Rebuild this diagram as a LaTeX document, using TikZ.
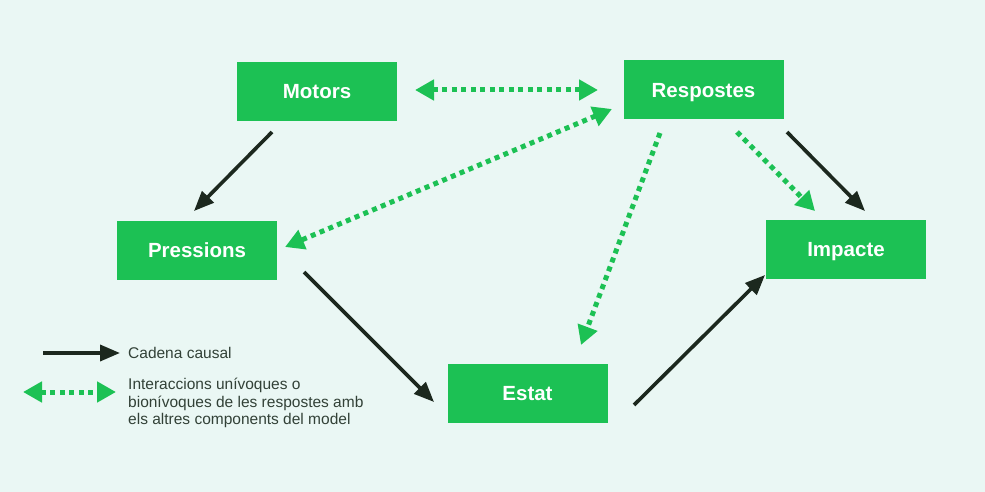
\documentclass[tikz,border=0pt]{standalone}
\usepackage{fontspec}
\setmainfont{Liberation Sans}
\usetikzlibrary{arrows.meta}
\definecolor{bggreen}{RGB}{234,247,244}
\definecolor{boxgreen}{RGB}{28,193,84}
\definecolor{darkarrow}{RGB}{28,40,30}
\definecolor{legendtext}{RGB}{50,65,55}
\tikzset{
  box/.style={fill=boxgreen, text=white, minimum width=160pt, minimum height=59pt, inner sep=0pt,
    text height=14.7pt, text depth=0pt,
    font=\fontsize{20.5}{24}\selectfont\bfseries},
  causal/.style={draw=darkarrow, line width=3.6pt, -{Triangle[length=20pt,width=16pt]}},
  interact/.style={draw=boxgreen, line width=5pt, dash pattern=on 5pt off 4.5pt,
    -{Triangle[length=19pt,width=20pt]}},
  interact2/.style={draw=boxgreen, line width=5pt, dash pattern=on 5pt off 4.5pt,
    {Triangle[length=19pt,width=20pt]}-{Triangle[length=19pt,width=20pt]}},
  legtext/.style={text=legendtext, inner sep=0pt, anchor=west, align=left,
    font=\fontsize{15.5}{17.6}\selectfont}
}
\begin{document}
\begin{tikzpicture}[x=1pt,y=-1pt]
\useasboundingbox (0,0) rectangle (985,492);
\fill[bggreen] (0,0) rectangle (985,492);
% boxes
\node[box] (mot)  at (317,91.5) {Motors};
\node[box] (resp) at (703.5,90) {Respostes};
\node[box] (pres) at (197,250) {Pressions};
\node[box] (imp)  at (846,249) {Impacte};
\node[box] (est)  at (527.5,393.5) {Estat};
% connector end points
\coordinate (m1) at (272,132);   \coordinate (p1) at (194,211);
\coordinate (m2) at (415,90);    \coordinate (r2) at (598,90);
\coordinate (r3) at (612,109);   \coordinate (p3) at (285,247);
\coordinate (r4) at (660,133);   \coordinate (e4) at (581,345);
\coordinate (r5) at (737,132);   \coordinate (i5) at (815,211);
\coordinate (r6) at (787,132);   \coordinate (i6) at (865,211);
\coordinate (p7) at (304,272);   \coordinate (e7) at (434,402);
\coordinate (e8) at (634,405);   \coordinate (i8) at (765,275);
% connectors
\draw[causal] (m1) -- (p1);
\draw[interact2] (m2) -- (r2);
\draw[interact2] (r3) -- (p3);
\draw[interact] (r4) -- (e4);
\draw[interact] (r5) -- (i5);
\draw[causal] (r6) -- (i6);
\draw[causal] (p7) -- (e7);
\draw[causal] (e8) -- (i8);
% legend
\coordinate (l1a) at (43,353);  \coordinate (l1b) at (120,353);
\coordinate (l2a) at (23,392);  \coordinate (l2b) at (116,392);
\draw[causal] (l1a) -- (l1b);
\draw[interact2] (l2a) -- (l2b);
\node[legtext] (lt1) at (128,353) {Cadena causal};
\node[legtext] (lt2) at (128,403) {Interaccions unívoques o\\bionívoques de les respostes amb\\els altres components del model};
\end{tikzpicture}
\end{document}
